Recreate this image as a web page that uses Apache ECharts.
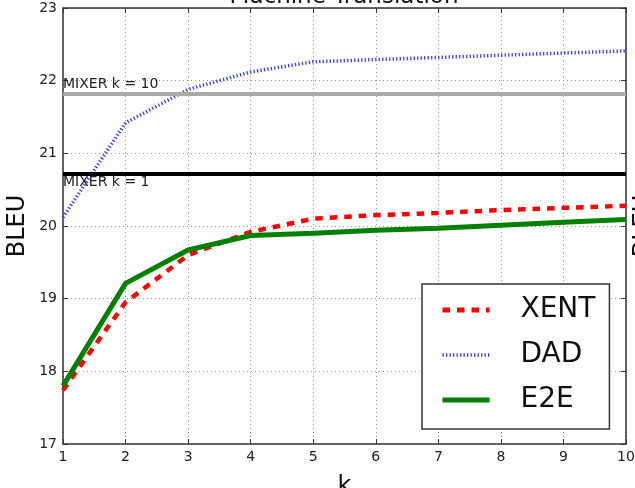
<!DOCTYPE html>
<html>
<head>
<meta charset="utf-8">
<script src="https://cdn.jsdelivr.net/npm/echarts@6/dist/echarts.min.js"></script>
<style>
	html, body { margin: 0; padding: 0; background: #fff; }
	#chart { width: 635px; height: 488px; }
</style>
</head>
<body>
<div id="chart"></div>
<script>
// Datos
const ks = [1, 2, 3, 4, 5, 6, 7, 8, 9, 10]
const xent = [17.74, 18.95, 19.6, 19.92, 20.1, 20.15, 20.18, 20.22, 20.25, 20.28]
const dad = [20.12, 21.42, 21.88, 22.12, 22.26, 22.29, 22.32, 22.35, 22.38, 22.41]
const e2e = [17.8, 19.21, 19.67, 19.87, 19.9, 19.94, 19.97, 20.01, 20.05, 20.09]
const mixerK1 = 20.72
const mixerK10 = 21.82
const yMin = 17
const yMax = 23

const font = 'DejaVu Sans'
const toPairs = (vals) => ks.map((k, i) => [k, vals[i]])

const chart = echarts.init(document.getElementById('chart'))

// Ejes secundarios solo para el marco y las marcas internas
const frameAxis = {
	axisLine: { show: true, lineStyle: { color: '#333', width: 1.5 } },
	axisTick: { show: true, inside: true, length: 5, lineStyle: { color: '#333' } },
	axisLabel: { show: false },
	splitLine: { show: false },
}

chart.setOption({
	animation: false,
	backgroundColor: '#fff',
	grid: { left: 63, right: 9, top: 8, bottom: 44, outerBoundsMode: 'none', containLabel: false },
	graphic: [
		{
			type: 'text',
			x: 344,
			y: 9,
			style: {
				text: 'Machine Translation',
				fontFamily: font,
				fontSize: 23,
				fill: '#111',
				align: 'center',
				verticalAlign: 'bottom',
			},
		},
		{
			type: 'text',
			x: 644,
			y: 226,
			rotation: Math.PI / 2,
			style: {
				text: 'BLEU',
				fontFamily: font,
				fontSize: 24,
				fill: '#111',
				align: 'center',
				verticalAlign: 'middle',
			},
		},
	],
	legend: {
		data: [
			{ name: 'XENT', lineStyle: { width: 5 } },
			{ name: 'DAD', lineStyle: { width: 3.5 } },
			{ name: 'E2E', lineStyle: { width: 5 } },
		],
		orient: 'vertical',
		left: 422,
		top: 284,
		padding: [9, 14, 12, 18],
		itemGap: 11,
		itemWidth: 47,
		itemHeight: 14,
		itemStyle: { opacity: 0 },
		borderColor: '#333',
		borderWidth: 1.5,
		borderRadius: 0,
		backgroundColor: '#fff',
		textStyle: {
			fontFamily: font,
			fontSize: 28,
			color: '#111',
			lineHeight: 34,
			padding: [0, 0, 0, 26],
		},
	},
	xAxis: [
		{
			type: 'value',
			min: 1,
			max: 10,
			interval: 1,
			name: 'k',
			nameLocation: 'middle',
			nameGap: 31,
			nameTextStyle: { fontFamily: font, fontSize: 24, color: '#111' },
			axisLine: { show: true, lineStyle: { color: '#333', width: 1.5 } },
			axisTick: { show: true, inside: true, length: 5, lineStyle: { color: '#333' } },
			axisLabel: { fontFamily: font, fontSize: 14, color: '#222', margin: 6 },
			splitLine: { show: true, lineStyle: { color: '#999', type: [1, 3], width: 1 } },
		},
		Object.assign({ type: 'value', min: 1, max: 10, interval: 1, position: 'top' }, frameAxis),
	],
	yAxis: [
		{
			type: 'value',
			min: yMin,
			max: yMax,
			interval: 1,
			name: 'BLEU',
			nameLocation: 'middle',
			nameGap: 33,
			nameMoveOverlap: false,
			nameTextStyle: { fontFamily: font, fontSize: 24, color: '#111' },
			axisLine: { show: true, lineStyle: { color: '#333', width: 1.5 } },
			axisTick: { show: true, inside: true, length: 5, lineStyle: { color: '#333' } },
			axisLabel: { fontFamily: font, fontSize: 14, color: '#222', margin: 6 },
			splitLine: { show: true, lineStyle: { color: '#999', type: [1, 3], width: 1 } },
		},
		Object.assign({ type: 'value', min: yMin, max: yMax, interval: 1, position: 'right' }, frameAxis),
	],
	series: [
		{
			name: 'MIXER k = 10',
			type: 'line',
			data: [],
			markLine: {
				silent: true,
				symbol: 'none',
				data: [{ yAxis: mixerK10 }],
				lineStyle: { color: '#aaa', width: 4, type: 'solid' },
				label: {
					show: true,
					position: 'insideStartTop',
					distance: [0, 2],
					formatter: 'MIXER k = 10',
					fontFamily: font,
					fontSize: 14,
					color: '#222',
				},
			},
		},
		{
			name: 'MIXER k = 1',
			type: 'line',
			data: [],
			markLine: {
				silent: true,
				symbol: 'none',
				data: [{ yAxis: mixerK1 }],
				lineStyle: { color: '#000', width: 4, type: 'solid' },
				label: {
					show: true,
					position: 'insideStartBottom',
					distance: [0, 2],
					formatter: 'MIXER k = 1',
					fontFamily: font,
					fontSize: 14,
					color: '#222',
				},
			},
		},
		{
			name: 'XENT',
			type: 'line',
			data: toPairs(xent),
			symbol: 'none',
			itemStyle: { color: '#ff0000' },
			lineStyle: { color: '#ff0000', width: 4.5, type: [7.5, 7], cap: 'butt' },
			z: 3,
		},
		{
			name: 'DAD',
			type: 'line',
			data: toPairs(dad),
			symbol: 'none',
			itemStyle: { color: '#3a3aff' },
			lineStyle: { color: '#3a3aff', width: 3.5, type: [1.3, 2.2], cap: 'butt' },
			z: 3,
		},
		{
			name: 'E2E',
			type: 'line',
			data: toPairs(e2e),
			symbol: 'none',
			itemStyle: { color: '#008000' },
			lineStyle: { color: '#008000', width: 5 },
			z: 3,
		},
	],
})
</script>
</body>
</html>
